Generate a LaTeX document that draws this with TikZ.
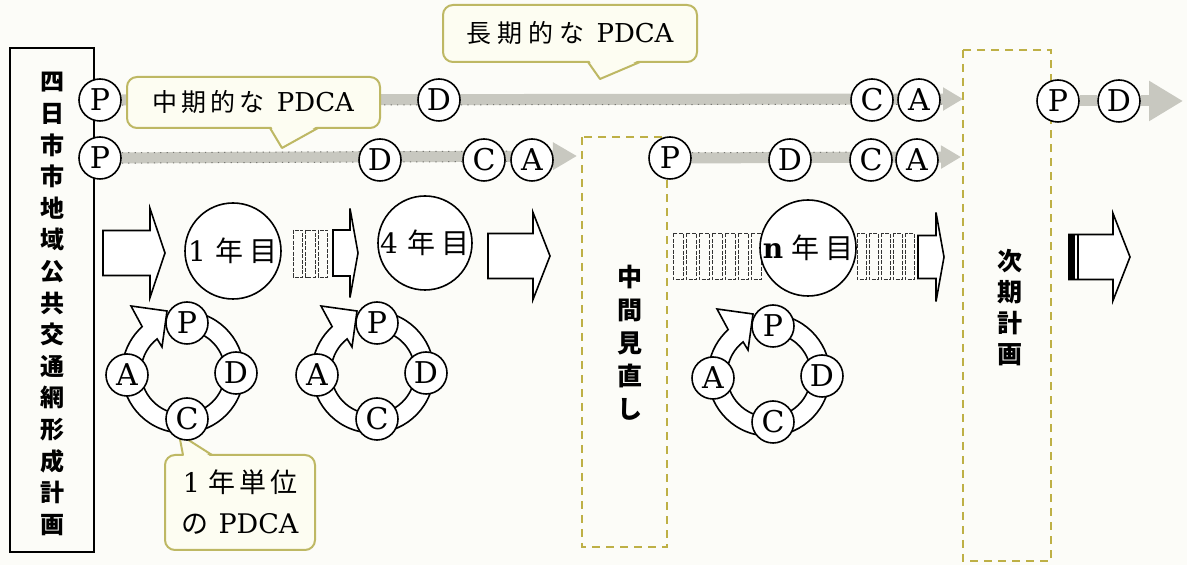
\documentclass[tikz,border=0pt]{standalone}
\usepackage{fontspec}
\setmainfont{DejaVu Serif}
\newfontfamily\jp{Noto Sans CJK JP}
\usetikzlibrary{arrows.meta}
\pgfdeclarelayer{bg}
\pgfdeclarelayer{bandl}
\pgfsetlayers{bg,bandl,main}
\definecolor{paper}{RGB}{252,252,248}
\definecolor{bandgray}{RGB}{200,200,192}
\definecolor{banddotc}{RGB}{120,120,115}
\definecolor{callline}{RGB}{190,184,100}
\definecolor{callfill}{RGB}{253,253,242}
\definecolor{dashcol}{RGB}{190,176,70}
\newcommand\jk{\kern2pt}
% hollow block arrow: x0, xbase, xtip, cy, shaft half, head half
\newcommand\harrow[6]{\draw[hollow] (#1,{-#4+#5}) -- (#2,{-#4+#5}) -- (#2,{-#4+#6}) -- (#3,-#4) -- (#2,{-#4-#6}) -- (#2,{-#4-#5}) -- (#1,{-#4-#5}) -- cycle;}
% striped part: xstart, count, cy, half height, step
\newcommand\stripes[5]{\foreach \i in {1,...,#2}{\draw[stripe] ({#1+(\i-1)*#5},{-#3+#4}) rectangle ++({0.78*#5},{-2*#4});}}
% PDCA cycle: name prefix, cx, cy
\newcommand\pdcacyc[3]{%
\begin{scope}[shift={(#2,-#3)}]
\draw[line width=0.8pt,fill=white,line join=miter] (80:61) arc[start angle=80,end angle=-228,radius=61] -- (-52,66) -- (-16,61) -- (-21,25) -- (-232:42) arc[start angle=-232,end angle=80,radius=42] -- cycle;
\node[lt] (#1p) at (4,49) {P};
\node[lt] (#1d) at (53,-1) {D};
\node[lt] (#1c) at (4,-47) {C};
\node[lt] (#1a) at (-56,-3) {A};
\end{scope}}
\begin{document}
\begin{tikzpicture}[x=0.5pt,y=0.5pt,
 lt/.style={circle,draw,fill=white,line width=0.8pt,minimum size=21pt,inner sep=0pt,font=\fontsize{15}{15}\selectfont},
 yc/.style={circle,draw,fill=white,line width=0.8pt,minimum size=48pt,inner sep=0pt,font=\fontsize{14}{14}\selectfont},
 band/.style={draw=bandgray,line width=5.5pt},
 banddot/.style={draw=banddotc,line width=0.5pt,dash pattern=on 0.6pt off 2.6pt},
 callout/.style={draw=callline,fill=callfill,line width=1pt,rounded corners=5pt,inner sep=0pt,align=center},
 tailline/.style={draw=callline,line width=1pt,line join=round},
 dashbox/.style={draw=dashcol,line width=1.1pt,dash pattern=on 4pt off 3pt},
 hollow/.style={draw,line width=0.8pt,fill=white,line join=miter},
 stripe/.style={draw=black!80,line width=0.45pt,dash pattern=on 2pt off 0.7pt},
 vtext/.style={align=center,inner sep=0pt,font=\jp\bfseries\fontsize{12}{15.8}\selectfont},
]
\begin{pgfonlayer}{bg}
\fill[paper] (0,0) rectangle (1187,-565);
\end{pgfonlayer}
\useasboundingbox (0,0) rectangle (1187,-565);

% left plan box
\draw[line width=1pt] (10,-48) rectangle (94,-552);
\node[vtext] (plan) at (52,-304) {四\\日\\市\\市\\地\\域\\公\\共\\交\\通\\網\\形\\成\\計\\画};

% dashed boxes
\draw[dashbox] (582,-137) rectangle (667,-547);
\node[vtext,font=\jp\bfseries\fontsize{12.5}{16.5}\selectfont] (mid) at (630,-343) {中\\間\\見\\直\\し};
\draw[dashbox] (963,-50) rectangle (1051,-561);
\node[vtext,font=\jp\bfseries\fontsize{12.5}{15.5}\selectfont] (next) at (1010,-308) {次\\期\\計\\画};

% row 1 (long term)
\node[lt] (r1p) at (100,-100) {P};
\node[lt] (r1d) at (439,-100) {D};
\node[lt] (r1c) at (872,-100) {C};
\node[lt] (r1a) at (919,-100) {A};
\coordinate (r1t) at (963,-99);
\node[lt] (r3p) at (1058,-101) {P};
\node[lt] (r3d) at (1119,-101) {D};
\coordinate (r3t) at (1183,-101);

% row 2 (mid term)
\node[lt] (r2p) at (100,-158) {P};
\node[lt] (r2d) at (380,-160) {D};
\node[lt] (r2c) at (484,-160) {C};
\node[lt] (r2a) at (532,-160) {A};
\coordinate (r2t) at (577,-156);
\node[lt] (r4p) at (670,-158) {P};
\node[lt] (r4d) at (790,-160) {D};
\node[lt] (r4c) at (871,-160) {C};
\node[lt] (r4a) at (917,-160) {A};
\coordinate (r4t) at (961,-157);

\begin{pgfonlayer}{bandl}
\draw[band,-{Triangle[length=10pt,width=11pt]}] (r1p) -- (r1t);
\draw[band] (r3p) -- (r3d);
\draw[band,-{Triangle[length=17pt,width=19pt]}] (r3d) -- (r3t);
\draw[band,-{Triangle[length=12pt,width=13pt]}] (r2p) -- (r2t);
\draw[band,-{Triangle[length=10pt,width=11pt]}] (r4p) -- (r4t);
\draw[banddot,transform canvas={yshift=-2.6pt},shorten >=10pt] (r1p) -- (r1t);
\draw[banddot,transform canvas={yshift=2.6pt},shorten >=12pt] (r2p) -- (r2t);
\draw[banddot,transform canvas={yshift=-2.6pt},shorten >=12pt] (r2p) -- (r2t);
\draw[banddot,transform canvas={yshift=2.6pt},shorten >=10pt] (r4p) -- (r4t);
\end{pgfonlayer}

% callouts
\node[callout,minimum width=127pt,minimum height=28.5pt] (long) at (570,-33.5)
 {\fontsize{12.5}{14}\selectfont{\jp 長\kern3pt 期\kern3pt 的\kern3pt な}\hspace{6pt}\fontsize{13}{14}\selectfont PDCA};
\fill[callfill] (589,-60) -- (600,-79) -- (639,-60) -- cycle;
\draw[tailline] (588,-62) -- (600,-79) -- (640,-62);

\node[callout,minimum width=126.5pt,minimum height=25.5pt] (midc) at (253.5,-102.5)
 {\fontsize{12.5}{14}\selectfont{\jp 中\jk 期\jk 的\jk な}\hspace{6pt}\fontsize{13}{14}\selectfont PDCA};
\fill[callfill] (271,-126) -- (282,-148) -- (317,-126) -- cycle;
\draw[tailline] (270,-128) -- (282,-148) -- (318,-128);

\node[callout,minimum width=75pt,minimum height=47.5pt,font=\fontsize{13.5}{20.5}\selectfont] (unit) at (240,-502.5)
 {1\hspace{4pt}{\jp 年\jk 単\jk 位}\\{\jp の}\hspace{5pt}PDCA};
\fill[callfill] (184,-457) -- (179,-434) -- (211,-457) -- cycle;
\draw[tailline] (183,-455) -- (179,-434) -- (212,-455);

% year flow
\harrow{103}{150}{165}{253}{22.5}{44.5}
\node[yc] (y1) at (233,-251) {1\hspace{5pt}{\jp 年\kern3pt 目}};
\stripes{293}{3}{253.5}{23.5}{12.5}
\harrow{333}{350}{358}{253}{23}{44.5}
\node[yc,minimum size=47pt] (y4) at (425,-243) {4\hspace{5pt}{\jp 年\kern3pt 目}};
\harrow{488}{533}{550}{256}{22.5}{43.5}
\stripes{673}{7}{256.5}{23}{13}
\stripes{857}{5}{256.5}{23}{12}
\node[yc] (yn) at (808,-248) {\textbf{n}\hspace{4pt}{\jp 年\kern3pt 目}};
\harrow{918}{936}{944}{257}{21.5}{44.5}
\harrow{1069}{1113}{1130}{257}{22.5}{43.5}
\fill (1069,-234.5) rectangle (1075,-279.5);
\draw[line width=0.6pt] (1078,-234.5) -- (1078,-279.5);

% PDCA cycles
\pdcacyc{ca}{183}{372}
\pdcacyc{cb}{373}{372}
\pdcacyc{cc}{769}{375}
\end{tikzpicture}
\end{document}
